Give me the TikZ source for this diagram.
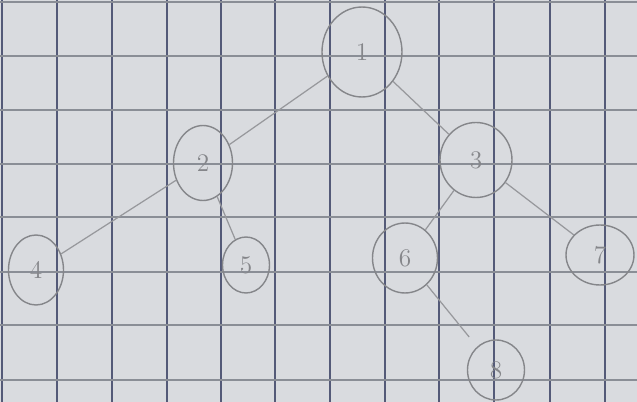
\documentclass[tikz,border=0pt]{standalone}
\usepackage{tikz}
\usetikzlibrary{shapes.geometric}
\definecolor{paper}{HTML}{D9DBDF}
\definecolor{vline}{HTML}{545A78}
\definecolor{hline}{HTML}{8A8E96}
\definecolor{pencil}{HTML}{85868A}

\begin{document}
\begin{tikzpicture}[x=0.02cm, y=-0.02cm,
  vert/.style={ellipse, draw=pencil, line width=0.8pt, text=pencil, font=\Large, inner sep=0pt},
  edge/.style={draw=pencil!85, line width=0.7pt}]
  % Paper
  \fill[paper] (0,0) rectangle (637,402);
  \useasboundingbox (0,0) rectangle (637,402);
  % Grid
  \foreach \x in {2,57,112,167,221,275,330,385,439,494,550,605}
    \draw[vline, line width=1pt] (\x,0) -- (\x,402);
  \foreach \y in {2,56,110,164,217,272,325,380}
    \draw[hline, line width=0.9pt] (0,\y) -- (637,\y);
  % Nodes
  \node[vert, minimum width=1.6cm, minimum height=1.8cm] (n1) at (362,52) {1};
  \node[vert, minimum width=1.18cm, minimum height=1.5cm] (n2) at (203,163) {2};
  \node[vert, minimum width=1.44cm, minimum height=1.5cm] (n3) at (476,160) {3};
  \node[vert, minimum width=1.1cm, minimum height=1.4cm] (n4) at (36,270) {4};
  \node[vert, minimum width=0.94cm, minimum height=1.12cm] (n5) at (246,265) {5};
  \node[vert, minimum width=1.3cm, minimum height=1.4cm] (n6) at (405,258) {6};
  \node[vert, minimum width=1.36cm, minimum height=1.2cm] (n7) at (600,255) {7};
  \node[vert, minimum width=1.14cm, minimum height=1.2cm] (n8) at (496,370) {8};
  % Edges
  \draw[edge] (n1) -- (n2);
  \draw[edge] (n1) -- (n3);
  \draw[edge] (n2) -- (n4);
  \draw[edge] (n2) -- (n5);
  \draw[edge] (n3) -- (n6);
  \draw[edge] (n3) -- (n7);
  \draw[edge, shorten >=0.25cm] (n6) -- (n8);
\end{tikzpicture}
\end{document}
